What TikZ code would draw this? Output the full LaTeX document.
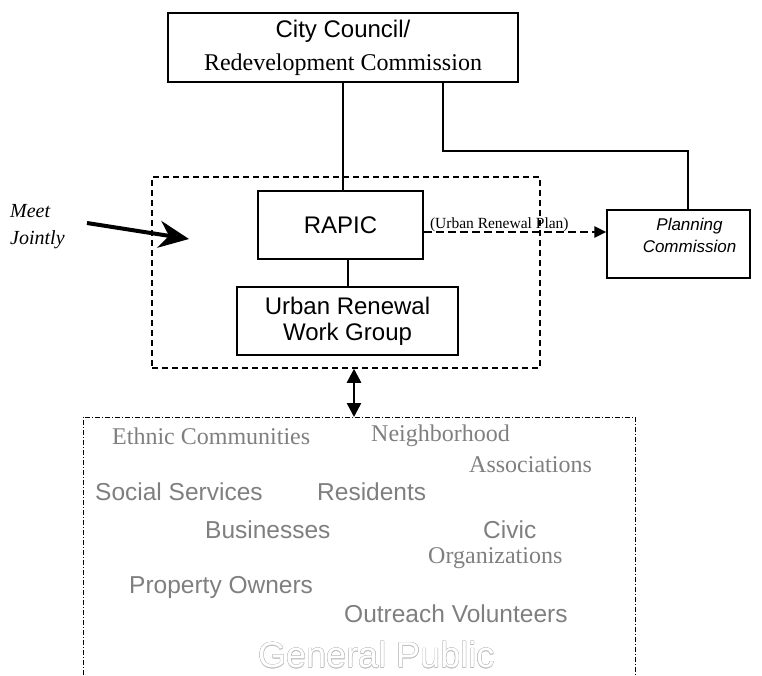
\documentclass[tikz,border=0pt]{standalone}
\usepackage{fontspec}
\setmainfont{Liberation Serif}
\setsansfont{Liberation Sans}
\usepackage{contour}
\usetikzlibrary{arrows.meta, calc, positioning}
\definecolor{pubgray}{HTML}{7F7F7F}
\contourlength{0.4pt}

\begin{document}
\begin{tikzpicture}[x=1pt, y=-1pt, every node/.style={align=center, inner sep=0pt},
  box/.style={draw, line width=1.5pt, font=\sffamily\fontsize{24}{26}\selectfont},
  grp/.style={anchor=west, text=pubgray, font=\fontsize{24}{26}\selectfont},
  grpsf/.style={grp, font=\sffamily\fontsize{24.5}{26}\selectfont}]
\useasboundingbox (0,0) rectangle (762,675);
\node (joint) [draw, line width=1.5pt, dash pattern=on 6pt off 4pt, minimum width=388pt, minimum height=191pt] at (346,272.5) {};
\node (council) [box, minimum width=350pt, minimum height=69pt, font=\fontsize{24}{33}\selectfont] at (343,47.5) {{\sffamily City Council/}\\Redevelopment Commission};
\node (rapic) [box, minimum width=165pt, minimum height=68pt] at (340.5,225) {RAPIC};
\node (wg) [box, minimum width=221pt, minimum height=68pt] at (347.5,321) {Urban Renewal\\Work Group};
\node (plan) [draw, line width=1.5pt, minimum width=143pt, minimum height=68pt] at (678.5,244) {};
\node (plantxt) [below=9pt of plan.north, xshift=11pt, font=\sffamily\itshape\fontsize{17}{22}\selectfont] {Planning\\Commission};
\node (meet) [anchor=west, align=left, font=\itshape\fontsize{20}{27}\selectfont] at (10,227) {Meet\\Jointly};
\coordinate (meetfrom) at (87,223);
\coordinate (meettip) at (189,239);
\coordinate (pubtop) at (354,417);

% lines from the council
\draw[line width=2pt] (council.south) -- (council.south |- rapic.north);
\draw[line width=2pt] ([xshift=100pt]council.south) -- ++(0,68) -| ([xshift=9pt]plan.north);
\draw[line width=2pt] (wg.north) -- (wg.north |- rapic.south);
\draw[line width=2.5pt, dash pattern=on 8pt off 4pt, -{Triangle[length=12pt, width=11pt]}]
  ([yshift=-7pt]rapic.east) -- node[pos=0, anchor=base west, xshift=5pt, yshift=4pt, font=\fontsize{15.5}{16}\selectfont] {(Urban Renewal Plan)} ([yshift=-7pt]rapic.east -| plan.west);
\draw[line width=4pt, -{Stealth[length=30pt, width=27pt]}] (meetfrom) -- (meettip);
\draw[line width=2.5pt, {Triangle[length=14pt, width=14pt]}-{Triangle[length=14pt, width=14pt]}] (joint.south -| pubtop) -- (pubtop);

% general public
\draw[line width=0.8pt, dash pattern=on 5pt off 2pt on 1pt off 2pt] (83,675) |- (pubtop) -| (635,675);
\node (ethnic) [grp] at (112,436) {Ethnic Communities};
\node (neigh) [grp] at (371,436) {Neighborhood};
\node (assoc) [grp] at (469,465) {Associations};
\node (social) [grpsf] at (95,492) {Social Services};
\node (resid) [grpsf] at (317,492) {Residents};
\node (business) [grpsf] at (205,530) {Businesses};
\node (civic) [grpsf] at (483,530) {Civic};
\node (org) [grp] at (428,558) {Organizations};
\node (owners) [grpsf] at (129,587) {Property Owners};
\node (outreach) [grpsf] at (344,614) {Outreach Volunteers};
\node (public) [anchor=west, font=\sffamily\fontsize{36}{38}\selectfont] at (258,655) {\contour{pubgray!50}{\textcolor{white}{General Public}}};
\end{tikzpicture}
\end{document}
